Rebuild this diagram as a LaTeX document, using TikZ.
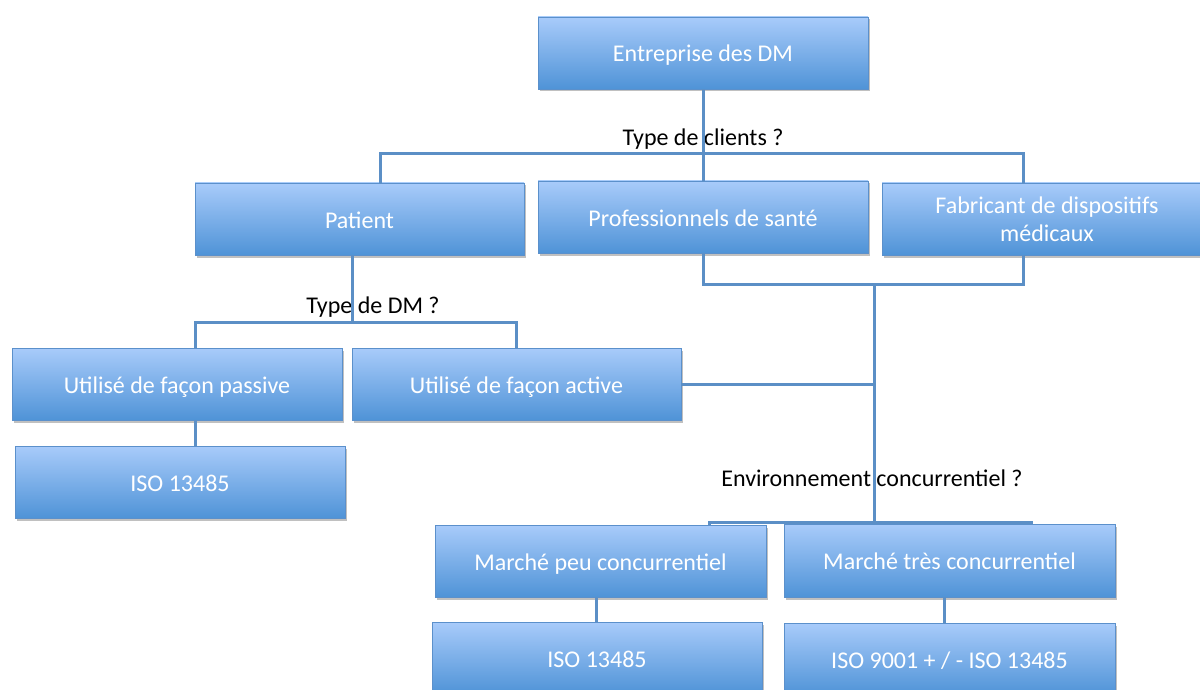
\documentclass[tikz,border=0pt]{standalone}
\usepackage{fontspec}
\setmainfont{Carlito}
\usetikzlibrary{shadows}
\definecolor{boxtop}{HTML}{A8CBFA}
\definecolor{boxbot}{HTML}{4F93D7}
\definecolor{boxline}{HTML}{5B90CB}
\definecolor{wire}{HTML}{5B8FC6}
\tikzset{
  box/.style={draw=boxline, line width=0.8pt, top color=boxtop, bottom color=boxbot,
    minimum width=330pt, minimum height=72pt, inner sep=0pt, align=center,
    text=white, font=\fontsize{24}{28}\selectfont,
    drop shadow={shadow xshift=1.5pt, shadow yshift=-2.5pt, opacity=0.35, fill=black!70}},
  oneline/.style={box, text height=20pt, text depth=2pt},
  question/.style={text=black, font=\fontsize{24}{28}\selectfont, inner sep=0pt},
  wireline/.style={draw=wire, line width=3pt}
}
\begin{document}
\begin{tikzpicture}[x=1pt, y=-1pt]
\useasboundingbox (0,0) rectangle (1200,690);
\clip (0,0) rectangle (1200,690);
\fill[white] (0,0) rectangle (1200,690);

% question labels (the wires run over them)
\node[question] (q1) at (703,139) {Type de clients ?};
\node[question] (q2) at (373,307) {Type de DM ?};
\node[question] (q3) at (872,478) {Environnement concurrentiel ?};

% boxes
\node[oneline] (ent) at (703,53) {Entreprise des DM};
\node[oneline, minimum width=329pt] (pat) at (359.5,219) {Patient};
\node[oneline] (pro) at (703,217) {Professionnels de santé};
\node[box, text depth=-4pt] (fab) at (1047,219) {Fabricant de dispositifs\\médicaux};
\node[oneline] (pas) at (177,384) {Utilisé de façon passive};
\node[oneline, minimum width=329pt] (act) at (516.5,384) {Utilisé de façon active};
\node[oneline] (iso1) at (180,482) {ISO 13485};
\node[oneline, minimum width=331pt] (mpc) at (600.5,561) {Marché peu concurrentiel};
\node[oneline, minimum width=331pt, minimum height=73pt] (mtc) at (949.5,560.5) {Marché très concurrentiel};
\node[oneline] (iso2) at (597,658) {ISO 13485};
\node[oneline, minimum width=331pt] (iso3) at (949.5,659) {ISO 9001 + / - ISO 13485};

% junction points
\coordinate (b1) at (703,154);
\coordinate (b2) at (352,322);
\coordinate (b3) at (874,284);
\coordinate (b5) at (874,522);

% connectors
\draw[wireline] (ent.south) -- (pro.north);
\draw[wireline] ([xshift=20.5pt]pat.north) |- (b1) -| ([xshift=-24pt]fab.north);
\draw[wireline] ([xshift=-7.5pt]pat.south) -- (b2);
\draw[wireline] ([xshift=18pt]pas.north) |- (b2) -| (act.north);
\draw[wireline] ([xshift=18pt]pas.south) -- ([xshift=15pt]iso1.north);
\draw[wireline] (pro.south) |- (b3) -| ([xshift=-24pt]fab.south);
\draw[wireline] (b3) -- (b5);
\draw[wireline] (act.east) -- (act.east -| b3);
\draw[wireline] ([xshift=108.5pt]mpc.north) |- (b5) -| ([xshift=81.5pt]mtc.north);
\draw[wireline] ([xshift=-4.5pt]mpc.south) -- ([xshift=-1pt]iso2.north);
\draw[wireline] ([xshift=-5.5pt]mtc.south) -- ([xshift=-5.5pt]iso3.north);
\end{tikzpicture}
\end{document}
